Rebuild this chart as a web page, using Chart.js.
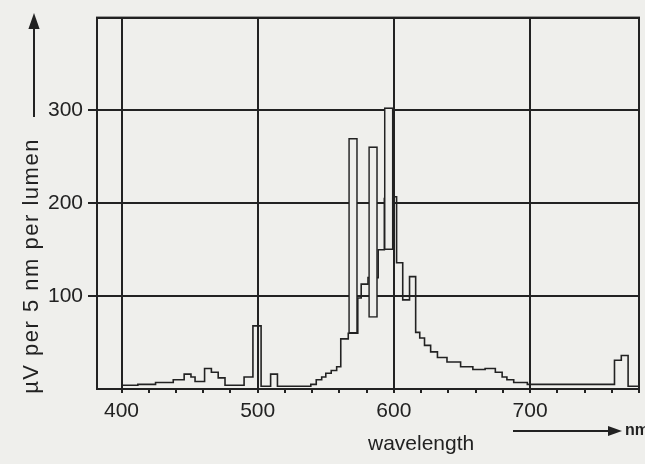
<!DOCTYPE html>
<html lang="en">
<head>
<meta charset="UTF-8">
<title>Spectral power distribution</title>
<script src="https://cdn.jsdelivr.net/npm/chart.js"></script>
<style>
  html, body { margin: 0; padding: 0; background: #efefec; }
</style>
</head>
<body>
<canvas id="spectrum" width="645" height="464"></canvas>
<script>
// continuum: each value holds from its wavelength to the next one (nm)
const wavelengths = [400, 412, 425, 438, 446, 451, 454, 461, 466, 471,
                     476, 490, 496.5, 502.5, 509.5, 514.5, 539, 543, 547, 550,
                     554, 558, 561, 566.5, 573.5, 576, 581, 588.5, 593, 599.5,
                     602, 606.5, 611.5, 616, 619, 622.5, 627, 632, 639, 649,
                     658, 667, 674.5, 679.5, 683, 688, 698, 762, 767, 772, 780];
const power = [4, 5, 7, 10, 16, 13, 8, 22, 18, 12,
               4, 13, 68, 3, 16, 3, 5, 10, 13, 17,
               20, 24, 54, 60, 98, 113, 120, 150, 205, 207,
               136, 96, 121, 61, 55, 47, 40, 34, 29, 24,
               21, 22, 18, 13, 10, 7, 5, 31, 36, 3, 3];

// the three strong lines, drawn as hollow bars
const lineCentres = [570, 584.7, 596.2];
const lineBases = [60, 77, 150];
const lineTops = [270, 261, 303];

const xLabels = [400, 500, 600, 700];
const yLabels = [100, 200, 300];

const ink = '#222222';
const paper = '#efefec';
const font = '"Liberation Sans", Arial, sans-serif';

function arrow(ctx, x1, y1, x2, y2, head) {
  const ang = Math.atan2(y2 - y1, x2 - x1);
  ctx.beginPath();
  ctx.moveTo(x1, y1);
  ctx.lineTo(x2 - Math.cos(ang) * head, y2 - Math.sin(ang) * head);
  ctx.stroke();
  ctx.beginPath();
  ctx.moveTo(x2, y2);
  ctx.lineTo(x2 - Math.cos(ang) * head - Math.sin(ang) * head * 0.35,
             y2 - Math.sin(ang) * head + Math.cos(ang) * head * 0.35);
  ctx.lineTo(x2 - Math.cos(ang) * head + Math.sin(ang) * head * 0.35,
             y2 - Math.sin(ang) * head - Math.cos(ang) * head * 0.35);
  ctx.closePath();
  ctx.fill();
}

const tickValue = ctx => (ctx.tick ? ctx.tick.value : NaN);

const decorations = {
  id: 'decorations',
  beforeDraw(chart) {
    const ctx = chart.ctx;
    ctx.save();
    ctx.fillStyle = paper;
    ctx.fillRect(0, 0, chart.width, chart.height);
    ctx.restore();
  },
  afterDraw(chart) {
    const { ctx, chartArea: a } = chart;
    ctx.save();
    ctx.strokeStyle = ink;
    ctx.fillStyle = ink;
    ctx.lineWidth = 2;
    ctx.strokeRect(a.left, a.top, a.right - a.left, a.bottom - a.top);

    // vertical axis title with its arrow
    ctx.save();
    ctx.font = '22px ' + font;
    ctx.letterSpacing = '1.5px';
    ctx.translate(32, 266);
    ctx.rotate(-Math.PI / 2);
    ctx.textAlign = 'center';
    ctx.textBaseline = 'middle';
    ctx.fillText('µV per 5 nm per lumen', 0, 0);
    ctx.restore();
    ctx.lineWidth = 2;
    arrow(ctx, 34, 117, 34, 13, 16);

    // horizontal axis title, arrow and unit
    ctx.font = '21px ' + font;
    ctx.textAlign = 'left';
    ctx.textBaseline = 'middle';
    ctx.fillText('wavelength', 368, 444);
    arrow(ctx, 513, 431, 622, 431, 14);
    ctx.font = 'bold 16px ' + font;
    ctx.fillText('nm', 625, 431);
    ctx.restore();
  }
};

const continuum = wavelengths.map((w, i) => ({ x: w, y: power[i] }));
const lines = lineCentres.map((c, i) => ({ x: c, y: [lineBases[i], lineTops[i]] }));

new Chart(document.getElementById('spectrum'), {
  type: 'line',
  data: {
    datasets: [
      {
        type: 'bar',
        data: lines,
        barThickness: 9,
        backgroundColor: paper,
        borderColor: ink,
        borderWidth: 1.6,
        borderSkipped: false,
        order: 0
      },
      {
        data: continuum,
        stepped: true,
        borderColor: ink,
        borderWidth: 1.6,
        pointRadius: 0,
        fill: false,
        order: 1
      }
    ]
  },
  options: {
    responsive: false,
    animation: false,
    layout: { padding: { top: 14, right: 2, left: 0, bottom: 0 } },
    plugins: { legend: { display: false }, tooltip: { enabled: false } },
    scales: {
      x: {
        type: 'linear',
        min: 382,
        max: 780,
        offset: false,
        afterFit(scale) { scale.height = 75; },
        border: { display: true, color: ink, width: 2 },
        grid: {
          offset: false,
          color: ctx => xLabels.includes(tickValue(ctx)) ? ink : 'transparent',
          tickColor: ink,
          lineWidth: 2,
          tickLength: 4
        },
        ticks: {
          stepSize: 20,
          includeBounds: false,
          autoSkip: false,
          maxRotation: 0,
          padding: 6,
          color: ink,
          font: { family: font, size: 21 },
          callback: v => xLabels.includes(v) ? String(v) : ''
        }
      },
      y: {
        type: 'linear',
        min: 0,
        max: 400,
        afterFit(scale) { scale.width = 97; },
        border: { display: true, color: ink, width: 2 },
        grid: {
          offset: false,
          color: ink,
          tickColor: ctx => yLabels.includes(tickValue(ctx)) ? ink : 'transparent',
          lineWidth: 2,
          tickLength: 9
        },
        ticks: {
          stepSize: 100,
          padding: 5,
          color: ink,
          font: { family: font, size: 21 },
          callback: v => yLabels.includes(v) ? String(v) : ''
        }
      }
    }
  },
  plugins: [decorations]
});
</script>
</body>
</html>
